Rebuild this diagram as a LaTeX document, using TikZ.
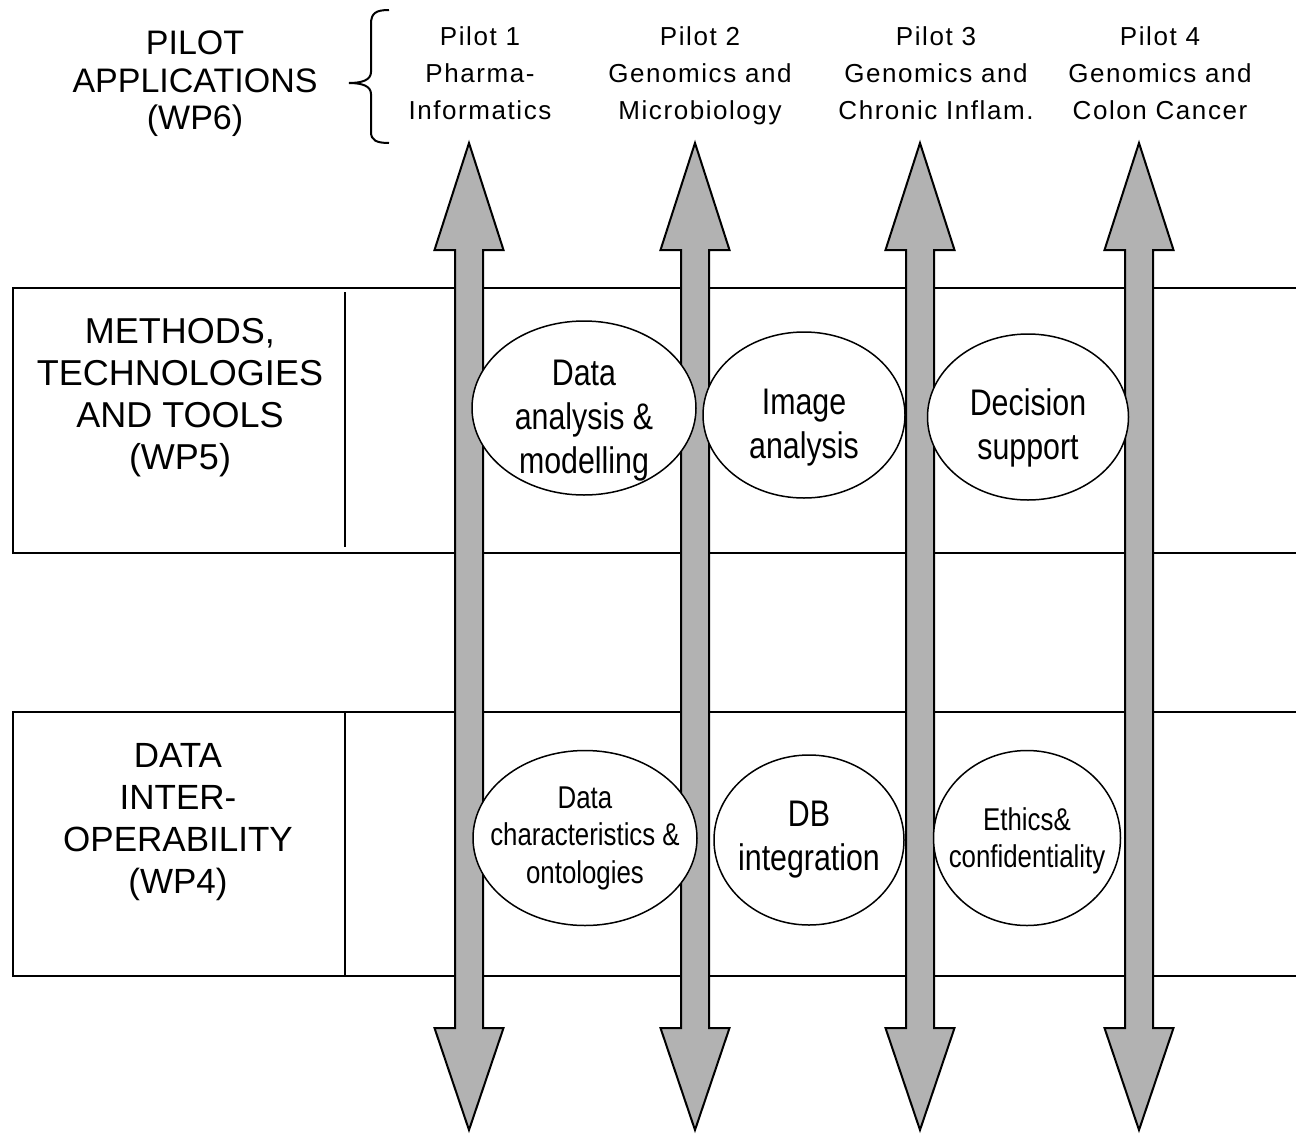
\documentclass[tikz,border=0pt]{standalone}
\usepackage{fontspec}
\setmainfont{Liberation Sans}
\newfontfamily\narrowfont[FakeStretch=0.82]{Liberation Sans}
\newfontfamily\pixfont[LetterSpace=6]{Liberation Sans}
\usetikzlibrary{shapes.geometric,calc}
\definecolor{arrowgray}{RGB}{178,178,178}
\begin{document}
\begin{tikzpicture}[x=1pt,y=-1pt,
  boxline/.style={line width=1.5pt},
  ell/.style={ellipse, draw, fill=white, line width=1.5pt, inner sep=0pt},
  bigtxt/.style={align=center, inner sep=0pt, font=\narrowfont\fontsize{37}{44}\selectfont},
  smalltxt/.style={align=center, inner sep=0pt, font=\narrowfont\fontsize{31.5}{37.5}\selectfont},
  pilottxt/.style={align=center, anchor=north, inner sep=0pt, font=\pixfont\fontsize{26}{37}\selectfont},
  wptxt/.style={align=center, anchor=north, inner sep=0pt},
  dblarrow/.style={fill=arrowgray, draw=black, line width=2pt, line join=miter}
]
\useasboundingbox (0,0) rectangle (1296,1133);

% boxes
\draw[boxline] (1296,288) -- (13,288) -- (13,553) -- (1296,553);
\draw[boxline] (345,292) -- (345,547);
\draw[boxline] (1296,712) -- (13,712) -- (13,976) -- (1296,976);
\draw[boxline] (345,712) -- (345,976);

% left labels
\node[wptxt, font=\fontsize{34}{37.5}\selectfont] (wp6) at (195,31) {PILOT\\APPLICATIONS\\(WP6)};
\node[wptxt, font=\fontsize{36}{42}\selectfont] (wp5) at (180,318) {METHODS,\\TECHNOLOGIES\\AND TOOLS\\(WP5)};
\node[wptxt, font=\fontsize{35}{42}\selectfont] (wp4) at (178,743) {DATA\\INTER-\\OPERABILITY\\(WP4)};

% brace
\draw[line width=2pt] (389,10) .. controls (376,10) and (371,13) .. (371,24)
  -- (371,72) .. controls (371,80) and (362,83) .. (349,83)
  .. controls (362,83) and (371,86) .. (371,94)
  -- (371,132) .. controls (371,140) and (376,143) .. (389,143);

% pilot labels
\node[pilottxt] (p1) at (480,26) {Pilot 1\\Pharma-\\Informatics};
\node[pilottxt] (p2) at (700,26) {Pilot 2\\Genomics and\\Microbiology};
\node[pilottxt] (p3) at (936,26) {Pilot 3\\Genomics and\\Chronic Inflam.};
\node[pilottxt] (p4) at (1160,26) {Pilot 4\\Genomics and\\Colon Cancer};

% double arrows
\foreach \c in {469,695,920,1139}{
  \draw[dblarrow] (\c,143) -- (\c+34.5,250) -- (\c+14,250) -- (\c+14,1028)
    -- (\c+34.5,1028) -- (\c,1130) -- (\c-34.5,1028) -- (\c-14,1028)
    -- (\c-14,250) -- (\c-34.5,250) -- cycle;
}

% ellipses (WP5)
\node[ell, minimum width=224, minimum height=174] (e1) at (584,408) {};
\node[ell, minimum width=202, minimum height=166] (e2) at (804,415) {};
\node[ell, minimum width=201, minimum height=166] (e3) at (1028,417) {};
\node[bigtxt] (t1) at ($(e1)+(0,13)$) {Data\\analysis \&\\modelling};
\node[bigtxt] (t2) at ($(e2)+(0,13)$) {Image\\analysis};
\node[bigtxt] (t3) at ($(e3)+(0,11)$) {Decision\\support};

% ellipses (WP4)
\node[ell, minimum width=224, minimum height=175] (e4) at (585,838) {};
\node[ell, minimum width=190, minimum height=170] (e5) at (809,840) {};
\node[ell, minimum width=187, minimum height=175] (e6) at (1027,838) {};
\node[smalltxt] (t4) at (e4) {Data\\characteristics \&\\ontologies};
\node[bigtxt] (t5) at (e5) {DB\\integration};
\node[smalltxt] (t6) at ($(e6)+(0,3)$) {Ethics\&\\confidentiality};
\end{tikzpicture}
\end{document}
